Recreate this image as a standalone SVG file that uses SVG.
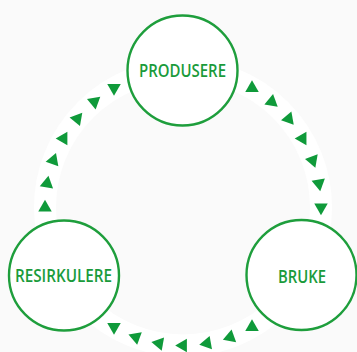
<svg xmlns="http://www.w3.org/2000/svg" xmlns:xlink="http://www.w3.org/1999/xlink" width="357" height="352" viewBox="0 0 357 352">
  <style>
    .node { fill: #ffffff; stroke: #1e9e3c; stroke-width: 2.4; }
    .label { font-family: "Open Sans", "Liberation Sans", sans-serif; font-weight: 600; font-size: 17.5px; fill: #1a9b3b; text-anchor: middle; }
    .tri { fill: #0f9a3a; }
  </style>
  <defs>
    <polygon id="tri" class="tri" points="7.8,0 -3.9,6.75 -3.9,-6.75"/>
  </defs>
  <rect x="0" y="0" width="357" height="352" fill="#fafafa"/>
  <circle cx="183" cy="207.5" r="138" fill="none" stroke="#ffffff" stroke-width="22"/>
  <g id="connectors">
    <g id="produsere-to-bruke">
      <use xlink:href="#tri" transform="rotate(-60 183 207.5) translate(321 207.5) rotate(90)"/>
      <use xlink:href="#tri" transform="rotate(-50 183 207.5) translate(321 207.5) rotate(90)"/>
      <use xlink:href="#tri" transform="rotate(-40 183 207.5) translate(321 207.5) rotate(90)"/>
      <use xlink:href="#tri" transform="rotate(-30 183 207.5) translate(321 207.5) rotate(90)"/>
      <use xlink:href="#tri" transform="rotate(-20 183 207.5) translate(321 207.5) rotate(90)"/>
      <use xlink:href="#tri" transform="rotate(-10 183 207.5) translate(321 207.5) rotate(90)"/>
      <use xlink:href="#tri" transform="rotate(0 183 207.5) translate(321 207.5) rotate(90)"/>
    </g>
    <g id="bruke-to-resirkulere">
      <use xlink:href="#tri" transform="rotate(60 183 207.5) translate(321 207.5) rotate(90)"/>
      <use xlink:href="#tri" transform="rotate(70 183 207.5) translate(321 207.5) rotate(90)"/>
      <use xlink:href="#tri" transform="rotate(80 183 207.5) translate(321 207.5) rotate(90)"/>
      <use xlink:href="#tri" transform="rotate(90 183 207.5) translate(321 207.5) rotate(90)"/>
      <use xlink:href="#tri" transform="rotate(100 183 207.5) translate(321 207.5) rotate(90)"/>
      <use xlink:href="#tri" transform="rotate(110 183 207.5) translate(321 207.5) rotate(90)"/>
      <use xlink:href="#tri" transform="rotate(120 183 207.5) translate(321 207.5) rotate(90)"/>
    </g>
    <g id="resirkulere-to-produsere">
      <use xlink:href="#tri" transform="rotate(180 183 207.5) translate(321 207.5) rotate(90)"/>
      <use xlink:href="#tri" transform="rotate(190 183 207.5) translate(321 207.5) rotate(90)"/>
      <use xlink:href="#tri" transform="rotate(200 183 207.5) translate(321 207.5) rotate(90)"/>
      <use xlink:href="#tri" transform="rotate(210 183 207.5) translate(321 207.5) rotate(90)"/>
      <use xlink:href="#tri" transform="rotate(220 183 207.5) translate(321 207.5) rotate(90)"/>
      <use xlink:href="#tri" transform="rotate(230 183 207.5) translate(321 207.5) rotate(90)"/>
      <use xlink:href="#tri" transform="rotate(240 183 207.5) translate(321 207.5) rotate(90)"/>
    </g>
  </g>
  <g id="node-produsere">
    <circle class="node" cx="182.5" cy="70.5" r="55"/>
    <text class="label" x="182.5" y="76.5" textLength="87" lengthAdjust="spacingAndGlyphs">PRODUSERE</text>
  </g>
  <g id="node-resirkulere">
    <circle class="node" cx="64" cy="275.5" r="55"/>
    <text class="label" x="63.5" y="282" textLength="97" lengthAdjust="spacingAndGlyphs">RESIRKULERE</text>
  </g>
  <g id="node-bruke">
    <circle class="node" cx="301.5" cy="275" r="55"/>
    <text class="label" x="302" y="283" textLength="48" lengthAdjust="spacingAndGlyphs">BRUKE</text>
  </g>
</svg>
